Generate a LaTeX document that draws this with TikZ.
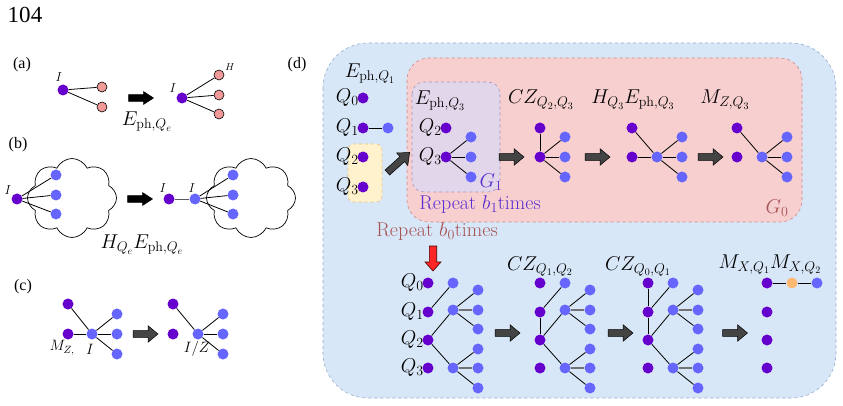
\RequirePackage{fix-cm}
\documentclass[tikz,border=0pt]{standalone}
\usepackage{fontspec}
\newfontfamily\timesf{Liberation Serif}
\usetikzlibrary{shapes.symbols}
\definecolor{qpur}{HTML}{6600CC}
\definecolor{qblue}{HTML}{6666FF}
\definecolor{qpink}{HTML}{F29A9A}
\definecolor{qorange}{HTML}{FFB870}
\definecolor{bgblue}{HTML}{D8E7F8}
\definecolor{bdblue}{HTML}{94AACB}
\definecolor{bgpink}{HTML}{F7CFCF}
\definecolor{bdpink}{HTML}{CC8888}
\definecolor{bglav}{HTML}{E2D6EA}
\definecolor{bdlav}{HTML}{A593BC}
\definecolor{bgyel}{HTML}{FFF2CC}
\definecolor{bdyel}{HTML}{EBC27A}
\definecolor{rep1}{HTML}{5A2ED0}
\definecolor{rep0}{HTML}{A65454}
\definecolor{arrgray}{HTML}{444444}
\tikzset{
  pn/.style={circle, fill=qpur, inner sep=0pt, minimum size=11pt},
  bn/.style={circle, fill=qblue, inner sep=0pt, minimum size=11pt},
  kn/.style={circle, fill=qpink, draw=black, line width=0.6pt, inner sep=0pt, minimum size=10pt},
  on/.style={circle, fill=qorange, inner sep=0pt, minimum size=11pt},
  ed/.style={line width=0.8pt, black},
  ged/.style={line width=1.6pt, gray!90!black},
  lbl/.style={font=\fontsize{20}{24}\selectfont, inner sep=0pt},
  slbl/.style={font=\fontsize{13}{15}\selectfont, inner sep=0pt},
  mlbl/.style={font=\fontsize{15}{18}\selectfont, inner sep=0pt},
  panel/.style={font=\timesf\fontsize{16}{18}\selectfont, inner sep=0pt},
  garr/.style={fill=arrgray, draw=black, line width=0.5pt, line join=miter},
  karr/.style={fill=black, draw=black, line width=0.5pt, line join=miter},
  rarr/.style={fill=red!85!white, draw=black!70!red, line width=0.6pt, line join=miter},
  cloudy/.style={cloud, draw=black, line width=0.7pt, cloud puffs=8, cloud puff arc=130, minimum width=89pt, minimum height=79pt, inner sep=0pt},
}
% block arrow: #1 centre, #2 angle, #3 length, #4 half head width, #5 half shaft width, #6 head length, #7 style
\newcommand\blkarrow[7]{%
  \begin{scope}[shift={#1}, rotate=#2]
    \draw[#7] (-#3/2,-#5) -- (#3/2-#6,-#5) -- (#3/2-#6,-#4) -- (#3/2,0) -- (#3/2-#6,#4) -- (#3/2-#6,#5) -- (-#3/2,#5) -- cycle;
  \end{scope}}
\begin{document}
\begin{tikzpicture}[x=1pt,y=-1pt]
\useasboundingbox (0,0) rectangle (843,406);
% page number
\node[font=\timesf\fontsize{23}{26}\selectfont, inner sep=0pt] (pg) at (25,15) {104};

% ===== (a) =====
\node[panel] (la) at (22,65) {(a)};
\node[pn] (a1) at (63,90) {};
\node[kn] (a2) at (102,87) {};
\node[kn] (a3) at (102,107) {};
\draw[ed] (a1) -- (a2);
\draw[ed] (a1) -- (a3);
\node[slbl] (aI1) at (59,77) {$I$};
\blkarrow{(141,98)}{0}{25}{6.5}{3.3}{10}{karr}
\node[pn] (a4) at (182,98) {};
\node[kn] (a5) at (219,75) {};
\node[kn] (a6) at (219,95) {};
\node[kn] (a7) at (219,114) {};
\draw[ed] (a4) -- (a5);
\draw[ed] (a4) -- (a6);
\draw[ed] (a4) -- (a7);
\node[slbl] (aI2) at (173,88) {$I$};
\node[font=\fontsize{10}{12}\selectfont, inner sep=0pt] (aH) at (230,67) {$H$};
\node[lbl] (aE) at (147,122) {$E_{\mathrm{ph},Q_e}$};

% ===== (b) =====
\node[panel] (lb) at (18,145) {(b)};
\node[cloudy] (cl1) at (72,198) {};
\node[cloudy] (cl2) at (251,198) {};
\node[pn] (b1) at (17,199) {};
\node[bn] (b2) at (56,175) {};
\node[bn] (b3) at (56,195) {};
\node[bn] (b4) at (56,214) {};
\draw[ed] (b1) -- (b2);
\draw[ed] (b1) -- (b3);
\draw[ed] (b1) -- (b4);
\node[slbl] (bI1) at (8,190) {$I$};
\blkarrow{(140,199)}{0}{25}{6.5}{3.3}{10}{karr}
\node[pn] (b5) at (169,199) {};
\node[bn] (b6) at (195,199) {};
\node[bn] (b7) at (233,175) {};
\node[bn] (b8) at (233,195) {};
\node[bn] (b9) at (233,214) {};
\draw[ed, gray!70!black] (b5) -- (b6);
\draw[ed] (b6) -- (b7);
\draw[ed] (b6) -- (b8);
\draw[ed] (b6) -- (b9);
\node[slbl] (bI2) at (163,188) {$I$};
\node[slbl] (bI3) at (192,188) {$I$};
\node[lbl] (bE) at (142,245) {$H_{Q_e}E_{\mathrm{ph},Q_e}$};

% ===== (c) =====
\node[panel] (lc) at (23,287) {(c)};
\node[pn] (c1) at (68,304) {};
\node[pn] (c2) at (68,334) {};
\node[bn] (c3) at (92,334) {};
\node[bn] (c4) at (117,314) {};
\node[bn] (c5) at (117,334) {};
\node[bn] (c6) at (117,354) {};
\draw[ed] (c1) -- (c3);
\draw[ed] (c2) -- (c3);
\draw[ed] (c3) -- (c4);
\draw[ed] (c3) -- (c5);
\draw[ed] (c3) -- (c6);
\node[mlbl] (cM) at (62,348) {$M_{Z,}$};
\node[mlbl] (cI) at (90,349) {$I$};
\blkarrow{(145.5,334)}{0}{25}{8.3}{3.4}{10}{garr}
\node[pn] (c7) at (173,304) {};
\node[pn] (c8) at (173,334) {};
\node[bn] (c9) at (198,334) {};
\node[bn] (c10) at (223,314) {};
\node[bn] (c11) at (223,334) {};
\node[bn] (c12) at (223,354) {};
\draw[ed] (c7) -- (c9);
\draw[ed] (c9) -- (c10);
\draw[ed] (c9) -- (c11);
\draw[ed] (c9) -- (c12);
\node[mlbl] (cIZ) at (197,349) {$I/Z$};

% ===== (d) =====
\node[panel] (ld) at (297,65) {(d)};
\draw[fill=bgblue, draw=bdblue, dashed, line width=0.6pt, rounded corners=45pt] (323,43) rectangle (836,398);
\draw[fill=bgpink, draw=bdpink, dashed, line width=0.6pt, rounded corners=22pt] (407,58) rectangle (802,222);
\draw[fill=bglav, draw=bdlav, dashed, line width=0.6pt, rounded corners=12pt] (412,82) rectangle (500,192);
\draw[fill=bgyel, draw=bdyel, dashed, line width=0.6pt, rounded corners=6pt] (348,144) rectangle (382,202);

% left column
\node[lbl, anchor=base] (dE1) at (370,78) {$E_{\mathrm{ph},Q_1}$};
\node[pn] (d0) at (363,98) {};
\node[pn] (d1) at (363,128) {};
\node[bn] (d1b) at (388,128) {};
\node[pn] (d2) at (363,157) {};
\node[pn] (d3) at (363,187) {};
\draw[ed] (d1) -- (d1b);
\node[lbl, anchor=east] (dq0) at (359,98) {$Q_0$};
\node[lbl, anchor=east] (dq1) at (359,128) {$Q_1$};
\node[lbl, anchor=east] (dq2) at (359,157) {$Q_2$};
\node[lbl, anchor=east] (dq3) at (359,187) {$Q_3$};
\blkarrow{(398.5,162.5)}{42}{30}{8.3}{3.4}{10}{garr}

% G1 box
\node[lbl, anchor=base] (dE3) at (440,105) {$E_{\mathrm{ph},Q_3}$};
\node[pn] (e2) at (446,128) {};
\node[pn] (e3) at (446,157) {};
\node[bn] (e4) at (471,137) {};
\node[bn] (e5) at (471,157) {};
\node[bn] (e6) at (471,177) {};
\draw[ed] (e3) -- (e4);
\draw[ed] (e3) -- (e5);
\draw[ed] (e3) -- (e6);
\node[lbl, anchor=east] (eq2) at (442,128) {$Q_2$};
\node[lbl, anchor=east] (eq3) at (442,157) {$Q_3$};
\node[lbl, text=rep1] (g1) at (491,182) {$G_1$};
\node[lbl, text=rep1] (r1) at (480,205) {Repeat $b_1$times};
\node[lbl, text=rep0] (r0) at (437,232) {Repeat $b_0$times};

\blkarrow{(511.5,157)}{0}{25}{8.3}{3.4}{10}{garr}
% CZ Q2 Q3
\node[lbl, anchor=base] (fL) at (541,104) {$CZ_{Q_2,Q_3}$};
\node[pn] (f1) at (540,128) {};
\node[pn] (f2) at (540,157) {};
\node[bn] (f3) at (565,137) {};
\node[bn] (f4) at (565,157) {};
\node[bn] (f5) at (565,177) {};
\draw[ed] (f1) -- (f2);
\draw[ed] (f2) -- (f3);
\draw[ed] (f2) -- (f4);
\draw[ed] (f2) -- (f5);
\blkarrow{(597.5,157)}{0}{25}{8.3}{3.4}{10}{garr}
% H E
\node[lbl, anchor=base] (gL) at (633,104) {$H_{Q_3}E_{\mathrm{ph},Q_3}$};
\node[pn] (g1n) at (632,128) {};
\node[pn] (g2n) at (632,157) {};
\node[bn] (g3n) at (657,157) {};
\node[bn] (g4n) at (682,137) {};
\node[bn] (g5n) at (682,157) {};
\node[bn] (g6n) at (682,177) {};
\draw[ed] (g1n) -- (g3n);
\draw[ed] (g2n) -- (g3n);
\draw[ed] (g3n) -- (g4n);
\draw[ed] (g3n) -- (g5n);
\draw[ed] (g3n) -- (g6n);
\blkarrow{(710.5,157)}{0}{25}{8.3}{3.4}{10}{garr}
% M Z
\node[lbl, anchor=base] (hL) at (725,104) {$M_{Z,Q_3}$};
\node[pn] (h1) at (737,128) {};
\node[pn] (h2) at (737,157) {};
\node[bn] (h3) at (762,157) {};
\node[bn] (h4) at (787,137) {};
\node[bn] (h5) at (787,157) {};
\node[bn] (h6) at (787,177) {};
\draw[ed] (h1) -- (h3);
\draw[ed] (h3) -- (h4);
\draw[ed] (h3) -- (h5);
\draw[ed] (h3) -- (h6);
\node[lbl, text=rep0] (g0) at (777,208) {$G_0$};

% red arrow
\blkarrow{(433,258.5)}{-90}{25}{8}{3.7}{9}{rarr}

% bottom graph 1
\node[pn] (p0) at (428,283) {};
\node[pn] (p1) at (428,312) {};
\node[pn] (p2) at (428,340) {};
\node[pn] (p3) at (428,368) {};
\node[bn] (u1) at (453,283) {};
\node[bn] (u2) at (453,310) {};
\node[bn] (u3) at (453,368) {};
\node[bn] (l1) at (478,290) {};
\node[bn] (l2) at (478,310) {};
\node[bn] (l3) at (478,329) {};
\node[bn] (l4) at (478,349) {};
\node[bn] (l5) at (478,368) {};
\node[bn] (l6) at (478,388) {};
\draw[ed] (p1) -- (u1);
\draw[ed] (p2) -- (u2);
\draw[ed] (p2) -- (u3);
\draw[ed] (u2) -- (l1);
\draw[ged] (u2) -- (l2);
\draw[ed] (u2) -- (l3);
\draw[ed] (u3) -- (l4);
\draw[ged] (u3) -- (l5);
\draw[ed] (u3) -- (l6);
\node[lbl, anchor=east] (pq0) at (424,283) {$Q_0$};
\node[lbl, anchor=east] (pq1) at (424,312) {$Q_1$};
\node[lbl, anchor=east] (pq2) at (424,340) {$Q_2$};
\node[lbl, anchor=east] (pq3) at (424,368) {$Q_3$};
\blkarrow{(507.5,333)}{0}{25}{8.3}{3.4}{10}{garr}

% bottom graph 2
\node[lbl, anchor=base] (sL) at (540,270) {$CZ_{Q_1,Q_2}$};
\node[pn] (s0) at (540,283) {};
\node[pn] (s1) at (540,312) {};
\node[pn] (s2) at (540,340) {};
\node[pn] (s3) at (540,368) {};
\node[bn] (v1) at (565,283) {};
\node[bn] (v2) at (565,310) {};
\node[bn] (v3) at (565,368) {};
\node[bn] (m1) at (590,290) {};
\node[bn] (m2) at (590,310) {};
\node[bn] (m3) at (590,329) {};
\node[bn] (m4) at (590,349) {};
\node[bn] (m5) at (590,368) {};
\node[bn] (m6) at (590,388) {};
\draw[ed] (s1) -- (s2);
\draw[ed] (s1) -- (v1);
\draw[ed] (s2) -- (v2);
\draw[ed] (s2) -- (v3);
\draw[ed] (v2) -- (m1);
\draw[ged] (v2) -- (m2);
\draw[ed] (v2) -- (m3);
\draw[ed] (v3) -- (m4);
\draw[ged] (v3) -- (m5);
\draw[ed] (v3) -- (m6);
\blkarrow{(620.5,333)}{0}{25}{8.3}{3.4}{10}{garr}

% bottom graph 3
\node[lbl, anchor=base] (tL) at (638,270) {$CZ_{Q_0,Q_1}$};
\node[pn] (t0) at (648,283) {};
\node[pn] (t1) at (648,312) {};
\node[pn] (t2) at (648,340) {};
\node[pn] (t3) at (648,368) {};
\node[bn] (w1) at (673,283) {};
\node[bn] (w2) at (673,310) {};
\node[bn] (w3) at (673,368) {};
\node[bn] (n1) at (698,290) {};
\node[bn] (n2) at (698,310) {};
\node[bn] (n3) at (698,329) {};
\node[bn] (n4) at (698,349) {};
\node[bn] (n5) at (698,368) {};
\node[bn] (n6) at (698,388) {};
\draw[ed] (t0) -- (t1);
\draw[ed] (t1) -- (t2);
\draw[ed] (t1) -- (w1);
\draw[ed] (t2) -- (w2);
\draw[ed] (t2) -- (w3);
\draw[ed] (w2) -- (n1);
\draw[ged] (w2) -- (n2);
\draw[ed] (w2) -- (n3);
\draw[ed] (w3) -- (n4);
\draw[ged] (w3) -- (n5);
\draw[ed] (w3) -- (n6);
\blkarrow{(735,333)}{0}{25}{8.3}{3.4}{10}{garr}

% bottom graph 4
\node[lbl, anchor=base] (xL) at (770,268) {$M_{X,Q_1}M_{X,Q_2}$};
\node[pn] (x0) at (767,283) {};
\node[on] (xo) at (792,283) {};
\node[bn] (xb) at (817,283) {};
\node[pn] (x1) at (767,312) {};
\node[pn] (x2) at (767,340) {};
\node[pn] (x3) at (767,368) {};
\draw[ed] (x0) -- (xo);
\draw[ed] (xo) -- (xb);
\end{tikzpicture}
\end{document}
